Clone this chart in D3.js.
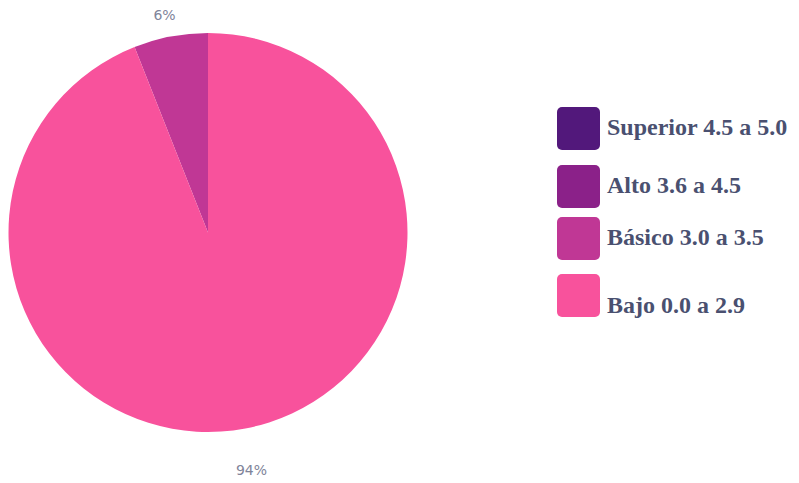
<!DOCTYPE html>
<html>
<head>
<meta charset="utf-8">
<script src="https://cdn.jsdelivr.net/npm/d3@7"></script>
<style>
  body { margin: 0; background: #fff; }
</style>
</head>
<body>
<svg id="chart" width="799" height="483"></svg>
<script>
// data
const categories = ['Superior 4.5 a 5.0', 'Alto 3.6 a 4.5', 'Básico 3.0 a 3.5', 'Bajo 0.0 a 2.9'];
const values = [0, 0, 6, 94];
const colors = ['#52187b', '#8b2189', '#c03795', '#f8529c'];

const svg = d3.select('#chart');
const cx = 208, cy = 232.5, radius = 199.5;

// pie goes counter-clockwise from the top, Bajo last
const pie = d3.pie()
  .sort(null)
  .value(d => d.value)
  .startAngle(0)
  .endAngle(-2 * Math.PI);

const slices = pie(categories.map((c, i) => ({ name: c, value: values[i], color: colors[i] })));

const arc = d3.arc().innerRadius(0).outerRadius(radius);
const labelArc = d3.arc().innerRadius(232).outerRadius(232);

const g = svg.append('g').attr('transform', `translate(${cx}, ${cy})`);

g.selectAll('path')
  .data(slices.filter(d => d.data.value > 0))
  .enter()
  .append('path')
  .attr('d', arc)
  .attr('fill', d => d.data.color);

// percent labels
g.selectAll('text')
  .data(slices.filter(d => d.data.value > 0))
  .enter()
  .append('text')
  .attr('x', d => labelArc.centroid(d)[0])
  .attr('y', d => labelArc.centroid(d)[1] + 10)
  .attr('text-anchor', 'middle')
  .attr('dominant-baseline', 'central')
  .style('font-family', '"DejaVu Sans", sans-serif')
  .style('font-size', '14px')
  .style('fill', '#80849a')
  .text(d => d.data.value + '%');

// legend
const legendY = [107, 165, 217, 274];
const legend = svg.append('g');

const item = legend.selectAll('g')
  .data(categories)
  .enter()
  .append('g')
  .attr('transform', (d, i) => `translate(557, ${legendY[i]})`);

item.append('rect')
  .attr('width', 43)
  .attr('height', 43)
  .attr('rx', 5)
  .attr('fill', (d, i) => colors[i]);

item.append('text')
  .attr('x', 50)
  .attr('y', (d, i) => i === 3 ? 39 : 28)
  .style('font-family', '"Liberation Serif", "Times New Roman", serif')
  .style('font-weight', 'bold')
  .style('font-size', '24px')
  .style('fill', '#4a5070')
  .text(d => d);
</script>
</body>
</html>
